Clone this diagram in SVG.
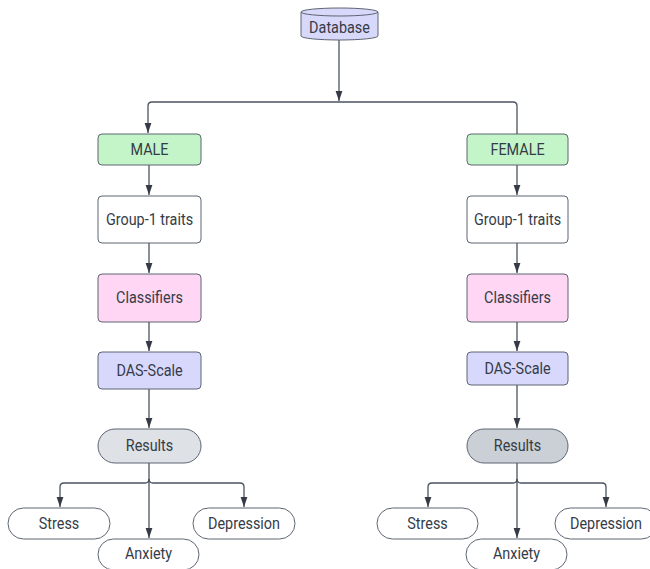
<svg xmlns="http://www.w3.org/2000/svg" width="650" height="569" viewBox="0 0 650 569">
<defs>
<style>
.n{stroke:#5d6572;stroke-width:1}
.t{font-family:Roboto,"Liberation Sans",sans-serif;font-size:14.4px;fill:#353c47;text-anchor:middle;dominant-baseline:central}
.c{fill:none;stroke:#4b5360;stroke-width:1.3}
</style>
<marker id="a" viewBox="0 0 10 10" refX="10" refY="5" markerWidth="10" markerHeight="10" orient="auto" markerUnits="userSpaceOnUse">
<path d="M0,1.6 L10,5 L0,8.4 Z" fill="#343b47"/>
</marker>
</defs>
<rect width="650" height="569" fill="#ffffff"/>
<g id="connectors">
<path class="c" d="M339,40 V101" marker-end="url(#a)"/>
<path class="c" d="M513,102 H152 Q148,102 148,106 V133" marker-end="url(#a)"/>
<path class="c" d="M513,102 Q517,102 517,106 V134"/>
<path class="c" d="M149,165 V195" marker-end="url(#a)"/>
<path class="c" d="M149,243 V273" marker-end="url(#a)"/>
<path class="c" d="M149,322 V351" marker-end="url(#a)"/>
<path class="c" d="M149,389 V428" marker-end="url(#a)"/>
<path class="c" d="M149,463 V538" marker-end="url(#a)"/>
<path class="c" d="M149,479 Q149,483 145,483 H64 Q60,483 60,487 V507" marker-end="url(#a)"/>
<path class="c" d="M149,479 Q149,483 153,483 H240 Q244,483 244,487 V507" marker-end="url(#a)"/>
<path class="c" d="M517,165 V195" marker-end="url(#a)"/>
<path class="c" d="M517,243 V273" marker-end="url(#a)"/>
<path class="c" d="M517,322 V351" marker-end="url(#a)"/>
<path class="c" d="M517,385 V428" marker-end="url(#a)"/>
<path class="c" d="M517,463 V538" marker-end="url(#a)"/>
<path class="c" d="M517,479 Q517,483 513,483 H432 Q428,483 428,487 V507" marker-end="url(#a)"/>
<path class="c" d="M517,479 Q517,483 521,483 H602 Q606,483 606,487 V507" marker-end="url(#a)"/>
</g>
<g id="database">
<path class="n" d="M301,12 A38.5,4 0 0 1 378,12 V36 A38.5,4 0 0 1 301,36 Z" fill="#d8d8fb"/>
<path class="n" d="M301,12 A38.5,4 0 0 0 378,12" fill="none"/>
<text class="t" transform="translate(339.5,28) scale(1,1.15)">Database</text>
</g>
<g id="male">
<rect class="n" x="98" y="134" width="103" height="31" rx="4" fill="#c3f5c9"/>
<text class="t" transform="translate(149.5,150) scale(1,1.15)">MALE</text>
</g>
<g id="male-traits">
<rect class="n" x="98" y="196" width="103" height="47" rx="4" fill="#ffffff"/>
<text class="t" transform="translate(149.5,219.5) scale(1,1.15)">Group-1 traits</text>
</g>
<g id="male-classifiers">
<rect class="n" x="98" y="274" width="103" height="48" rx="4" fill="#ffd6f4"/>
<text class="t" transform="translate(149.5,298) scale(1,1.15)">Classifiers</text>
</g>
<g id="male-das">
<rect class="n" x="98" y="352" width="103" height="37" rx="4" fill="#d8d8fc"/>
<text class="t" transform="translate(149.5,370.5) scale(1,1.15)">DAS-Scale</text>
</g>
<g id="male-results">
<rect class="n" x="98" y="429" width="103" height="34" rx="17" fill="#dee1e6"/>
<text class="t" transform="translate(149.5,446) scale(1,1.15)">Results</text>
</g>
<g id="male-stress">
<rect class="n" x="8" y="508" width="102" height="31" rx="15.5" fill="#ffffff"/>
<text class="t" transform="translate(59,523.5) scale(1,1.15)">Stress</text>
</g>
<g id="male-anxiety">
<rect class="n" x="98" y="539" width="101" height="31" rx="15.5" fill="#ffffff"/>
<text class="t" transform="translate(148.5,554) scale(1,1.15)">Anxiety</text>
</g>
<g id="male-depression">
<rect class="n" x="193" y="508" width="102" height="31" rx="15.5" fill="#ffffff"/>
<text class="t" transform="translate(244,523.5) scale(1,1.15)">Depression</text>
</g>
<g id="female">
<rect class="n" x="467" y="134" width="101" height="31" rx="4" fill="#c3f5c9"/>
<text class="t" transform="translate(517.5,150) scale(1,1.15)">FEMALE</text>
</g>
<g id="female-traits">
<rect class="n" x="467" y="196" width="101" height="47" rx="4" fill="#ffffff"/>
<text class="t" transform="translate(517.5,219.5) scale(1,1.15)">Group-1 traits</text>
</g>
<g id="female-classifiers">
<rect class="n" x="467" y="274" width="101" height="48" rx="4" fill="#ffd6f4"/>
<text class="t" transform="translate(517.5,298) scale(1,1.15)">Classifiers</text>
</g>
<g id="female-das">
<rect class="n" x="467" y="352" width="101" height="33" rx="4" fill="#d8d8fc"/>
<text class="t" transform="translate(517.5,368.5) scale(1,1.15)">DAS-Scale</text>
</g>
<g id="female-results">
<rect class="n" x="467" y="429" width="101" height="34" rx="17" fill="#cbd0d6"/>
<text class="t" transform="translate(517.5,446) scale(1,1.15)">Results</text>
</g>
<g id="female-stress">
<rect class="n" x="377" y="508" width="101" height="31" rx="15.5" fill="#ffffff"/>
<text class="t" transform="translate(427.5,523.5) scale(1,1.15)">Stress</text>
</g>
<g id="female-anxiety">
<rect class="n" x="466" y="539" width="101" height="31" rx="15.5" fill="#ffffff"/>
<text class="t" transform="translate(516.5,554) scale(1,1.15)">Anxiety</text>
</g>
<g id="female-depression">
<rect class="n" x="555" y="508" width="102" height="31" rx="15.5" fill="#ffffff"/>
<text class="t" transform="translate(606,523.5) scale(1,1.15)">Depression</text>
</g>
</svg>
